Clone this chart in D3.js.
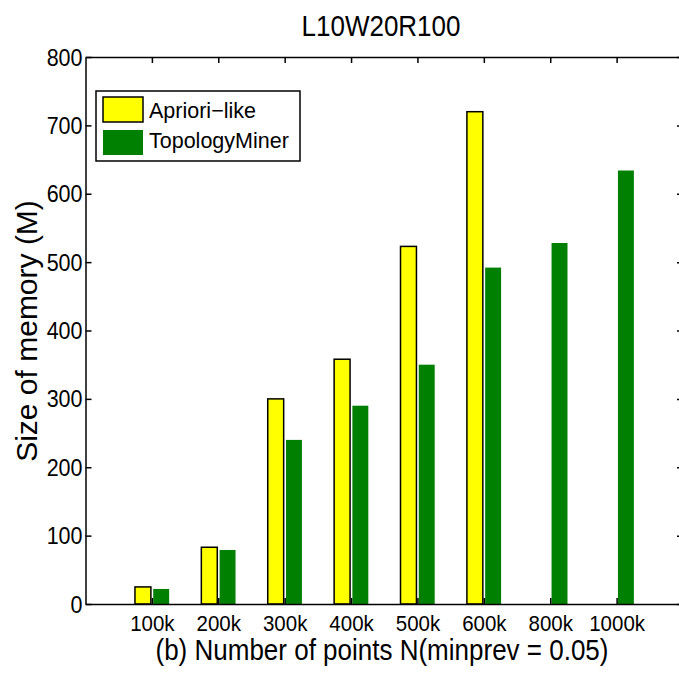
<!DOCTYPE html>
<html>
<head>
<meta charset="utf-8">
<script src="https://cdn.jsdelivr.net/npm/d3@7"></script>
<style>
  body { margin: 0; background: #fff; }
  svg { display: block; }
  svg text { font-family: "Liberation Sans", Arial, sans-serif; fill: #000; }
  .axis path, .axis line { stroke: #000; stroke-width: 1.5; }
</style>
</head>
<body>
<svg width="679" height="673"></svg>
<script>
// data
const categories = ["100k", "200k", "300k", "400k", "500k", "600k", "800k", "1000k"];
const apriori = [25, 83, 300, 358, 523, 720, null, null];
const topology = [22, 79, 240, 290, 350, 492, 528, 634];
const yTicks = [0, 100, 200, 300, 400, 500, 600, 700, 800];
const seriesNames = ["Apriori\u2212like", "TopologyMiner"];
const colors = ["#ffff00", "#008000"];

const svg = d3.select("svg");

// scales (categories sit at 1..8, axis runs 0..9 and gets clipped on the right)
const x = d3.scaleLinear().domain([0, 9]).range([85.5, 683]);
const y = d3.scaleLinear().domain([0, 800]).range([604, 57]);
const barW = 0.24; // in category units

// the picture's text is a bit stretched vertically
const stretch = 1.1;
function stretchText(sel, baseline) {
  sel.attr("transform", "translate(0," + baseline + ") scale(1," + stretch + ") translate(0," + (-baseline) + ")");
}

// bars
const rows = categories.map((c, i) => ({ i: i + 1, a: apriori[i], t: topology[i] }));

svg.append("g")
  .selectAll("rect")
  .data(rows.filter(d => d.a != null))
  .join("rect")
    .attr("x", d => x(d.i - 0.015 - barW))
    .attr("width", d => x(barW) - x(0))
    .attr("y", d => y(d.a))
    .attr("height", d => y(0) - y(d.a))
    .attr("fill", colors[0])
    .attr("stroke", "#000")
    .attr("stroke-width", 1.5);

svg.append("g")
  .selectAll("rect")
  .data(rows)
  .join("rect")
    .attr("x", d => x(d.i + 0.02))
    .attr("width", d => x(barW) - x(0))
    .attr("y", d => y(d.t))
    .attr("height", d => y(0) - y(d.t))
    .attr("fill", colors[1]);

// axes, ticks pointing inward
svg.append("g")
  .attr("class", "axis")
  .attr("transform", "translate(0,604)")
  .call(d3.axisBottom(x).tickValues(d3.range(1, 9)).tickSizeInner(-6).tickSizeOuter(0)
    .tickFormat(d => categories[d - 1]))
  .call(g => g.selectAll("text")
    .attr("font-size", 20.5).attr("dy", null).attr("y", 27)
    .call(stretchText, 27));

svg.append("g")
  .attr("class", "axis")
  .attr("transform", "translate(0,57)")
  .call(d3.axisTop(x).tickValues(d3.range(1, 9)).tickSizeInner(-6).tickSizeOuter(0).tickFormat(""));

svg.append("g")
  .attr("class", "axis")
  .attr("transform", "translate(85.5,0)")
  .call(d3.axisLeft(y).tickValues(yTicks).tickSizeInner(-6).tickSizeOuter(0).tickPadding(3))
  .call(g => g.selectAll("text")
    .attr("font-size", 21.5).attr("dy", null).attr("y", 8)
    .call(stretchText, 8));

svg.append("g")
  .attr("class", "axis")
  .attr("transform", "translate(683,0)")
  .call(d3.axisRight(y).tickValues(yTicks).tickSizeInner(-6).tickSizeOuter(0).tickFormat(""));

// title and axis labels
svg.append("text")
  .attr("x", 381).attr("y", 36)
  .attr("text-anchor", "middle")
  .attr("font-size", 26)
  .text("L10W20R100")
  .call(stretchText, 36);

svg.append("text")
  .attr("x", 382).attr("y", 660)
  .attr("text-anchor", "middle")
  .attr("font-size", 26)
  .text("(b) Number of points N(minprev = 0.05)")
  .call(stretchText, 660);

svg.append("text")
  .attr("transform", "translate(37,331) rotate(-90)")
  .attr("text-anchor", "middle")
  .attr("font-size", 30)
  .text("Size of memory (M)");

// legend
const legend = svg.append("g");
legend.append("rect")
  .attr("x", 96).attr("y", 91).attr("width", 204).attr("height", 70)
  .attr("fill", "#fff").attr("stroke", "#000").attr("stroke-width", 1.5);

seriesNames.forEach((name, k) => {
  legend.append("rect")
    .attr("x", 103).attr("y", 97 + k * 33).attr("width", 40).attr("height", 25)
    .attr("fill", colors[k])
    .attr("stroke", k === 0 ? "#000" : "none")
    .attr("stroke-width", 1.5);
  legend.append("text")
    .attr("x", 149).attr("y", 118 + k * 30)
    .attr("font-size", 21.5)
    .text(name);
});
</script>
</body>
</html>
